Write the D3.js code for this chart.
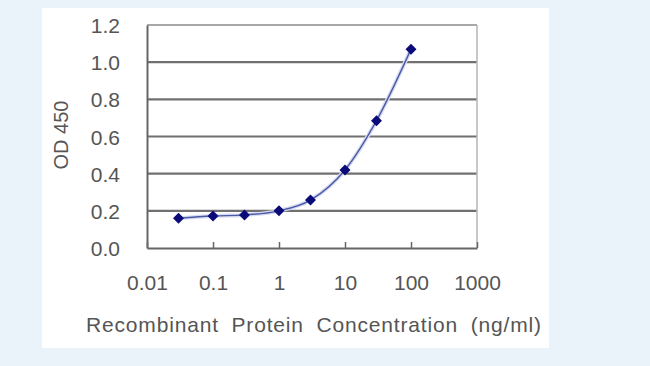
<!DOCTYPE html>
<html>
<head>
<meta charset="utf-8">
<script src="https://cdn.jsdelivr.net/npm/d3@7"></script>
<style>
  html, body { margin: 0; padding: 0; background: #eaf2fa; }
  svg { display: block; }
  text { font-family: "Liberation Sans", Arial, sans-serif; }
</style>
</head>
<body>
<svg id="chart" width="650" height="366"></svg>
<script>
// ---- data ----
const concentrations = [0.03, 0.1, 0.3, 1, 3, 10, 30, 100];
const odValues = [0.16, 0.172, 0.178, 0.20, 0.258, 0.42, 0.685, 1.07];
const xTickValues = [0.01, 0.1, 1, 10, 100, 1000];
const xTickLabels = ["0.01", "0.1", "1", "10", "100", "1000"];
const yTickValues = [0, 0.2, 0.4, 0.6, 0.8, 1.0, 1.2];
const yTickLabels = ["0.0", "0.2", "0.4", "0.6", "0.8", "1.0", "1.2"];
const xTitle = "Recombinant Protein Concentration (ng/ml)";
const yTitle = "OD 450";

(function () {
const svg = d3.select("#chart");

// panel
svg.append("rect").attr("x", 42).attr("y", 8).attr("width", 507).attr("height", 340)
  .attr("fill", "#ffffff");

const pL = 147, pR = 477, pT = 25, pB = 248;
const x = d3.scaleLog().domain([0.01, 1000]).range([pL, pR]);
const y = d3.scaleLinear().domain([0, 1.2]).range([pB, pT]);

// gridlines
svg.append("g").selectAll("line").data(yTickValues.filter(v => v > 0 && v < 1.2)).join("line")
  .attr("x1", pL).attr("x2", pR)
  .attr("y1", d => y(d)).attr("y2", d => y(d))
  .attr("stroke", "#707070").attr("stroke-width", 2.2);

// frame: top and right
svg.append("line").attr("x1", pL).attr("x2", pR).attr("y1", y(1.2)).attr("y2", y(1.2))
  .attr("stroke", "#8a8a8a").attr("stroke-width", 1.5);
svg.append("line").attr("x1", pR).attr("x2", pR).attr("y1", pT).attr("y2", pB)
  .attr("stroke", "#b5b5b5").attr("stroke-width", 1.5);

// x axis with inward ticks
const xAxis = d3.axisBottom(x).tickValues(xTickValues).tickSizeInner(-6).tickSizeOuter(0)
  .tickFormat((d, i) => xTickLabels[i]);
const gx = svg.append("g").attr("transform", `translate(0,${pB})`).call(xAxis);
gx.select(".domain").attr("stroke", "#666").attr("stroke-width", 2);
gx.selectAll(".tick line").attr("stroke", "#666").attr("stroke-width", 1.5);
gx.selectAll(".tick text").attr("y", 42).attr("dy", 0)
  .attr("font-size", 21).attr("fill", "#555")
  .attr("font-family", "'Liberation Sans', Arial, sans-serif");

// y axis
const yAxis = d3.axisLeft(y).tickValues(yTickValues).tickSize(0)
  .tickFormat((d, i) => yTickLabels[i]);
const gy = svg.append("g").attr("transform", `translate(${pL},0)`).call(yAxis);
gy.select(".domain").attr("stroke", "#666").attr("stroke-width", 2);
gy.selectAll(".tick text").attr("x", -27).attr("dy", "0.36em")
  .attr("font-size", 21).attr("fill", "#555")
  .attr("font-family", "'Liberation Sans', Arial, sans-serif");

// fitted curve
const pts = concentrations.map((c, i) => [x(c), y(odValues[i])]);
const line = d3.line().curve(d3.curveMonotoneX);
svg.append("path").attr("d", line(pts)).attr("fill", "none")
  .attr("stroke", "#d8dcf0").attr("stroke-width", 4);
svg.append("path").attr("d", line(pts)).attr("fill", "none")
  .attr("stroke", "#4a5aa8").attr("stroke-width", 1.4);

// markers (square rotated 45° = diamond)
svg.append("g").selectAll("path").data(concentrations).join("path")
  .attr("transform", (d, i) => `translate(${x(d)},${y(odValues[i])}) rotate(45)`)
  .attr("d", d3.symbol().type(d3.symbolSquare).size(60))
  .attr("fill", "#0a0a78");

// titles
svg.append("text").attr("x", 86).attr("y", 332)
  .attr("textLength", 455).attr("lengthAdjust", "spacing")
  .attr("font-size", 21).attr("fill", "#555").attr("word-spacing", 6).text(xTitle);
svg.append("text").attr("transform", "translate(68,135) rotate(-90)").attr("text-anchor", "middle")
  .attr("font-size", 20).attr("fill", "#555").text(yTitle);
})();
</script>
</body>
</html>
